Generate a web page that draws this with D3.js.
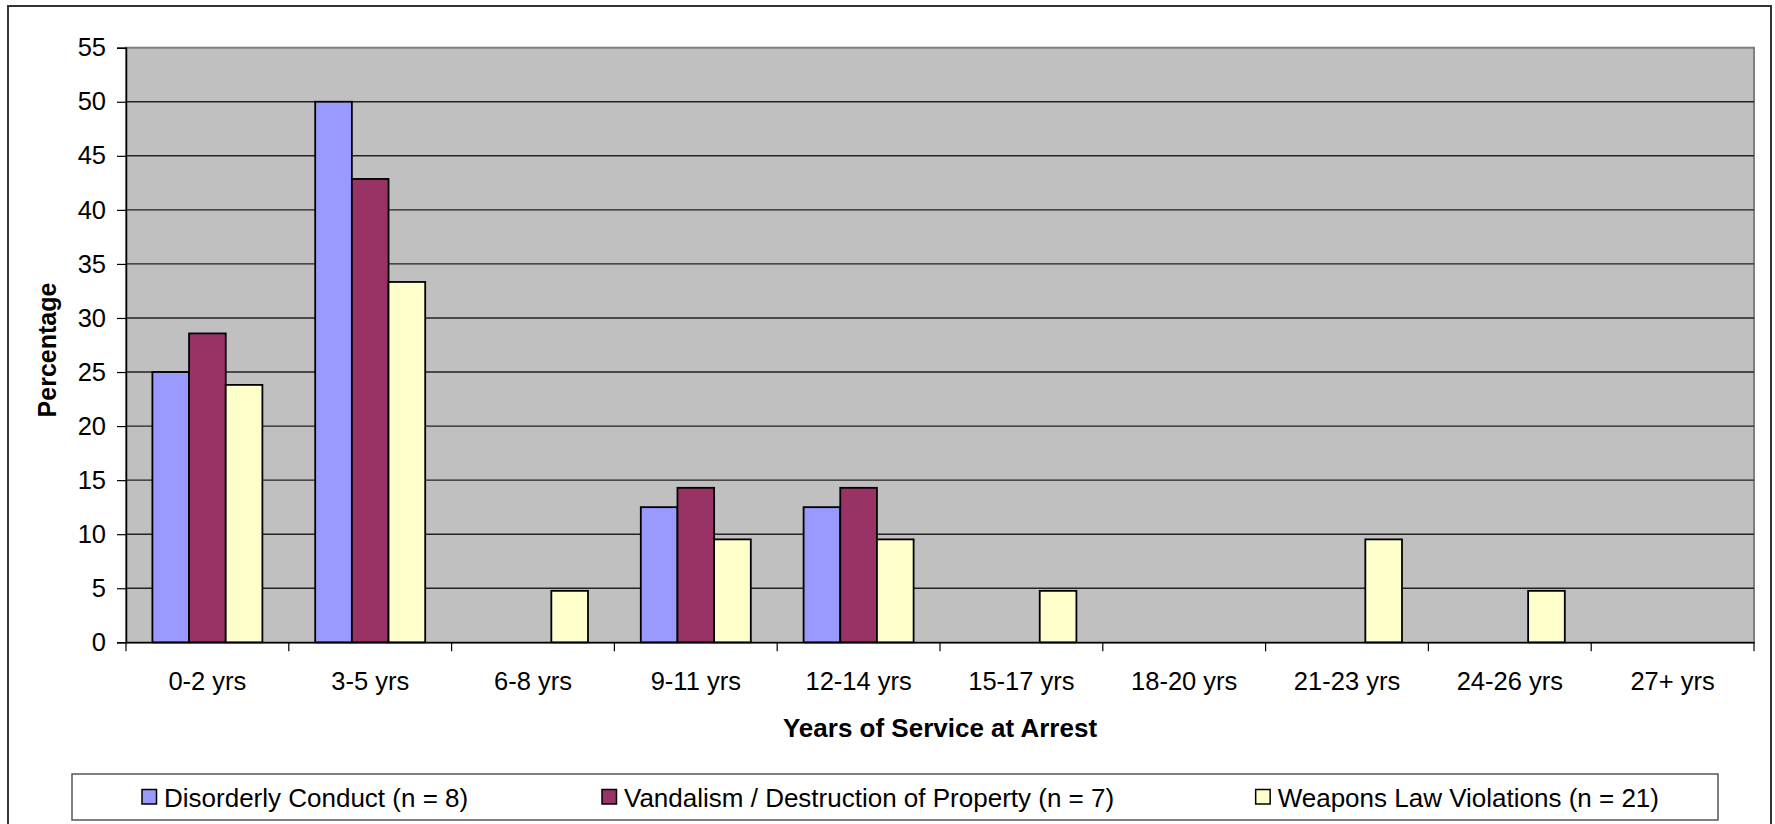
<!DOCTYPE html>
<html>
<head>
<meta charset="utf-8">
<script src="https://cdn.jsdelivr.net/npm/d3@7"></script>
<style>
  html, body { margin: 0; padding: 0; background: #ffffff; }
  svg { display: block; font-family: "Liberation Sans", Arial, sans-serif; }
</style>
</head>
<body>
<svg id="chart" width="1775" height="824"></svg>
<script>
// ---- data ----
const categories = ["0-2 yrs", "3-5 yrs", "6-8 yrs", "9-11 yrs", "12-14 yrs", "15-17 yrs", "18-20 yrs", "21-23 yrs", "24-26 yrs", "27+ yrs"];
const seriesNames = ["Disorderly Conduct (n = 8)", "Vandalism / Destruction of Property (n = 7)", "Weapons Law Violations (n = 21)"];
const disorderly = [25, 50, 0, 12.5, 12.5, 0, 0, 0, 0, 0];
const vandalism = [28.57, 42.86, 0, 14.29, 14.29, 0, 0, 0, 0, 0];
const weapons = [23.81, 33.33, 4.76, 9.52, 9.52, 4.76, 0, 9.52, 4.76, 0];
const seriesColors = ["#9999FF", "#993366", "#FFFFCC"];
const yTicks = [0, 5, 10, 15, 20, 25, 30, 35, 40, 45, 50, 55];
const xTitle = "Years of Service at Arrest";
const yTitle = "Percentage";

const seriesValues = [disorderly, vandalism, weapons];

// ---- layout ----
const plot = { left: 126, right: 1754, top: 47.7, bottom: 642.3 };
const svg = d3.select("#chart");

// outer frame
svg.append("rect")
  .attr("x", 8).attr("y", 6).attr("width", 1763).attr("height", 830)
  .attr("fill", "#ffffff").attr("stroke", "#333333").attr("stroke-width", 2);

const x0 = d3.scaleBand().domain(categories).range([plot.left, plot.right]).paddingInner(0).paddingOuter(0);
const x1 = d3.scaleBand().domain(d3.range(seriesNames.length)).range([0, x0.bandwidth()]).paddingInner(0).paddingOuter(0.72);
const y = d3.scaleLinear().domain([0, 55]).range([plot.bottom, plot.top]);

// plot background
svg.append("rect")
  .attr("x", plot.left).attr("y", plot.top)
  .attr("width", plot.right - plot.left).attr("height", plot.bottom - plot.top)
  .attr("fill", "#C0C0C0").attr("stroke", "#808080").attr("stroke-width", 2);

// gridlines
svg.append("g").selectAll("line")
  .data(yTicks.filter(t => t > 0 && t < 55))
  .join("line")
  .attr("x1", plot.left).attr("x2", plot.right)
  .attr("y1", d => y(d)).attr("y2", d => y(d))
  .attr("stroke", "#222222").attr("stroke-width", 1.4);

// bars
const groups = svg.append("g").selectAll("g")
  .data(categories)
  .join("g")
  .attr("transform", d => `translate(${x0(d)},0)`);

groups.selectAll("rect")
  .data((d, i) => seriesValues.map((vals, s) => ({ s, v: vals[i] })).filter(o => o.v > 0))
  .join("rect")
  .attr("x", d => x1(d.s))
  .attr("width", x1.bandwidth())
  .attr("y", d => y(d.v))
  .attr("height", d => y(0) - y(d.v))
  .attr("fill", d => seriesColors[d.s])
  .attr("stroke", "#000000").attr("stroke-width", 1.8);

// y axis
const yAxis = d3.axisLeft(y).tickValues(yTicks).tickSize(9).tickPadding(11).tickFormat(d3.format("d"));
const yg = svg.append("g").attr("transform", `translate(${plot.left},0)`).call(yAxis);
yg.select(".domain").attr("stroke", "#000").attr("stroke-width", 1.5);
yg.selectAll(".tick line").attr("stroke", "#000").attr("stroke-width", 1.2);
yg.selectAll(".tick text").attr("font-size", 25.5).attr("fill", "#000")
  .attr("font-family", "'Liberation Sans', Arial, sans-serif");

// x axis
const xAxis = d3.axisBottom(x0).tickSize(0).tickPadding(30);
const xg = svg.append("g").attr("transform", `translate(0,${plot.bottom})`).call(xAxis);
xg.select(".domain").attr("stroke", "#000").attr("stroke-width", 1.5);
xg.selectAll(".tick text").attr("font-size", 25.5).attr("fill", "#000")
  .attr("font-family", "'Liberation Sans', Arial, sans-serif");
// x tick marks at category boundaries
const boundaries = categories.map(c => x0(c)).concat([plot.right]);
svg.append("g").selectAll("line")
  .data(boundaries)
  .join("line")
  .attr("x1", d => d).attr("x2", d => d)
  .attr("y1", plot.bottom).attr("y2", plot.bottom + 9)
  .attr("stroke", "#000").attr("stroke-width", 1.2);

// axis titles
svg.append("text")
  .attr("x", (plot.left + plot.right) / 2).attr("y", 737)
  .attr("text-anchor", "middle")
  .attr("font-size", 26).attr("font-weight", "bold")
  .text(xTitle);

svg.append("text")
  .attr("transform", "translate(56,350) rotate(-90)")
  .attr("text-anchor", "middle")
  .attr("font-size", 25).attr("font-weight", "bold")
  .text(yTitle);

// legend
const legend = svg.append("g");
legend.append("rect")
  .attr("x", 72).attr("y", 774).attr("width", 1646).attr("height", 46)
  .attr("fill", "#ffffff").attr("stroke", "#555555").attr("stroke-width", 1.5);

const legendTextX = [164, 624, null];
const legendTextEnd = 1659;
seriesNames.forEach((name, i) => {
  const t = legend.append("text")
    .attr("y", 806.5)
    .attr("font-size", 26)
    .attr("fill", "#000")
    .text(name);
  let tx = legendTextX[i];
  if (tx === null) {
    const w = t.node().getComputedTextLength();
    tx = legendTextEnd - w;
  }
  t.attr("x", tx);
  legend.append("rect")
    .attr("x", tx - 22).attr("y", 789.5).attr("width", 14.5).attr("height", 14.5)
    .attr("fill", seriesColors[i]).attr("stroke", "#000").attr("stroke-width", 1.5);
});
</script>
</body>
</html>
